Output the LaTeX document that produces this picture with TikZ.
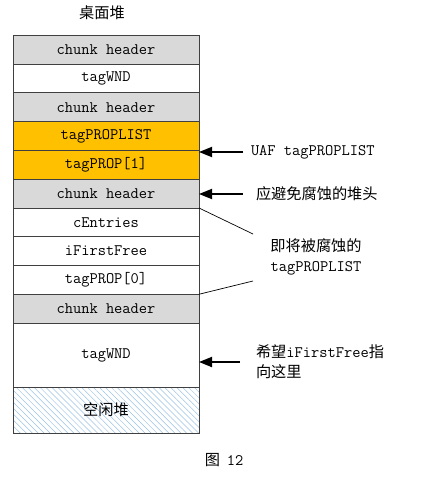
\documentclass[tikz,border=0pt]{standalone}
\usepackage{fontspec}
\newfontfamily\cjk{Noto Sans CJK SC}[Scale=0.95]
\usetikzlibrary{patterns.meta,arrows.meta}
\definecolor{hdrgray}{HTML}{D9D9D9}
\definecolor{uafor}{HTML}{FFC000}
\definecolor{edge}{HTML}{404040}
\definecolor{hatch}{HTML}{9DC3E6}
\begin{document}
\begin{tikzpicture}[x=1pt,y=-1pt,
  every node/.style={font=\fontsize{16}{18}\selectfont\ttfamily, inner sep=0pt, outer sep=0pt},
  cell/.style={draw=edge, line width=1pt, minimum width=186pt, minimum height=28.75pt, anchor=north},
  hdr/.style={cell, fill=hdrgray},
  plain/.style={cell, fill=white},
  uaf/.style={cell, fill=uafor},
  arr/.style={line width=1.8pt, -{Triangle[length=13pt,width=10pt]}},
  thin/.style={line width=0.7pt},
  lbl/.style={anchor=west, align=left}
]
\useasboundingbox[fill=white] (0,0) rectangle (424,484);

\node[font=\fontsize{16}{18}\selectfont\cjk] (title) at (102,13) {桌面堆};

\node[hdr]   (r1)  at (106,35.5) {chunk header};
\node[plain] (r2)  at (r1.south) {tagWND};
\node[hdr]   (r3)  at (r2.south) {chunk header};
\node[uaf]   (r4)  at (r3.south) {tagPROPLIST};
\node[uaf]   (r5)  at (r4.south) {tagPROP[1]};
\node[hdr]   (r6)  at (r5.south) {chunk header};
\node[plain] (r7)  at (r6.south) {cEntries};
\node[plain] (r8)  at (r7.south) {iFirstFree};
\node[plain] (r9)  at (r8.south) {tagPROP[0]};
\node[hdr]   (r10) at (r9.south) {chunk header};
\node[plain, minimum height=64pt] (r11) at (r10.south) {tagWND};
\node[cell, minimum height=46pt, pattern={Lines[angle=-45,distance=4.2pt,line width=0.5pt]}, pattern color=hatch] (r12) at (r11.south) {};
\node[font=\fontsize{16}{18}\selectfont\cjk] (free) at (r12.center) {空闲堆};

% labels
\node[lbl] (l1) at (251,152) {UAF tagPROPLIST};
\node[lbl, font=\fontsize{16}{18}\selectfont\cjk] (l2) at (256,194) {应避免腐蚀的堆头};
\node[align=center] (l3) at (316,257) {{\cjk 即将被腐蚀的}\\[2pt]tagPROPLIST};
\node[lbl] (l4) at (256,362) {{\cjk 希望}iFirstFree{\cjk 指}\\[2pt]{\cjk 向这里}};
\node[font=\fontsize{16}{18}\selectfont\cjk] (cap) at (224,460) {图\ \ \ttfamily 12};

% arrows
\coordinate (a1) at (243,152);
\coordinate (a2) at (243,194);
\coordinate (a3) at (240,362);
\draw[arr] (a1) -- (a1 -| r4.east);
\draw[arr] (a2) -- (a2 -| r6.east);
\draw[arr] (a3) -- (a3 -| r11.east);

% thin lines
\coordinate (e1) at (253,234);
\coordinate (e2) at (253,281);
\draw[thin] (r6.south east) -- (e1);
\draw[thin] (r9.south east) -- (e2);
\end{tikzpicture}
\end{document}
